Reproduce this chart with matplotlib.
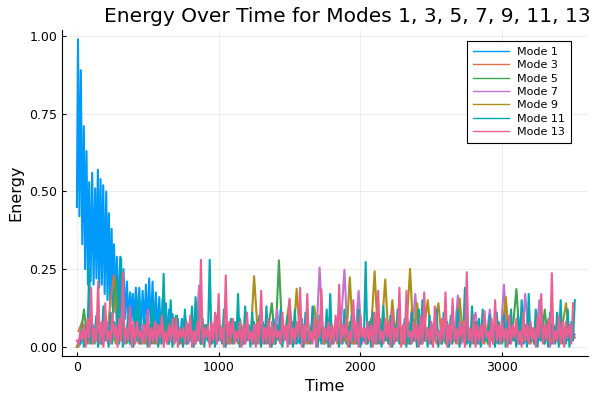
import numpy as np
import matplotlib.pyplot as plt

# mode 1: dense oscillation at the start, then small values
t1_early = [0, 8, 18, 28, 38, 49, 58, 68, 78, 87, 97, 108, 118, 129, 138, 148, 157, 167,
            176, 186, 196, 207, 216, 226, 235, 245, 254, 262, 272, 282, 294, 306, 317, 329,
            341, 353, 364, 376, 385, 395, 405, 416, 428, 440, 452, 464, 475, 487, 498, 510,
            522, 534, 545, 557, 569, 581, 593, 605, 616, 628, 640, 651, 663, 675, 690, 706,
            724, 741, 760]
e1_early = [0.45, 0.99, 0.42, 0.89, 0.33, 0.71, 0.25, 0.63, 0.20, 0.53, 0.21, 0.56, 0.20, 0.51,
            0.22, 0.57, 0.19, 0.54, 0.20, 0.52, 0.17, 0.50, 0.15, 0.43, 0.13, 0.38, 0.12, 0.33,
            0.11, 0.29, 0.10, 0.29, 0.10, 0.25, 0.09, 0.21, 0.08, 0.175, 0.08, 0.17, 0.07, 0.19,
            0.07, 0.19, 0.06, 0.18, 0.06, 0.20, 0.05, 0.22, 0.05, 0.21, 0.04, 0.175, 0.04, 0.16,
            0.03, 0.155, 0.03, 0.14, 0.02, 0.12, 0.02, 0.105, 0.02, 0.10, 0.01, 0.09, 0.02]
t1_late = list(range(800, 3501, 50))
e1_late = [0.08, 0.02, 0.05, 0.01, 0.04, 0.02, 0.05, 0.01, 0.03, 0.02, 0.04, 0.01, 0.05, 0.02,
           0.03, 0.01, 0.04, 0.02, 0.05, 0.01, 0.03, 0.02, 0.04, 0.01, 0.05, 0.02, 0.03, 0.01,
           0.04, 0.02, 0.05, 0.01, 0.03, 0.02, 0.04, 0.01, 0.05, 0.02, 0.03, 0.01, 0.04, 0.02,
           0.05, 0.01, 0.03, 0.02, 0.04, 0.01, 0.05, 0.02, 0.03, 0.01, 0.04, 0.02, 0.03]

# modes 3..9 sampled every 25 time units, on two interleaved grids
t_grid_a = list(range(0, 3501, 25))
t_grid_b = list(range(12, 3513, 25))

e3 = [0.05, 0.08, 0.03, 0.06, 0.02, 0.07, 0.03, 0.05, 0.02, 0.15, 0.23, 0.04, 0.06, 0.02, 0.08, 0.03, 0.05, 0.01, 0.06, 0.02,
      0.05, 0.01, 0.07, 0.02, 0.04, 0.01, 0.06, 0.02, 0.05, 0.01, 0.10, 0.02, 0.04, 0.01, 0.06, 0.02, 0.05, 0.01, 0.04, 0.02,
      0.06, 0.01, 0.04, 0.02, 0.07, 0.01, 0.05, 0.02, 0.04, 0.01, 0.06, 0.02, 0.05, 0.01, 0.04, 0.02, 0.06, 0.01, 0.05, 0.02,
      0.04, 0.01, 0.06, 0.02, 0.05, 0.01, 0.07, 0.02, 0.04, 0.01, 0.05, 0.02, 0.06, 0.01, 0.04, 0.02, 0.05, 0.01, 0.06, 0.02,
      0.05, 0.01, 0.04, 0.02, 0.06, 0.01, 0.05, 0.02, 0.04, 0.01, 0.07, 0.02, 0.05, 0.01, 0.12, 0.02, 0.04, 0.01, 0.06, 0.02,
      0.05, 0.01, 0.04, 0.02, 0.06, 0.01, 0.05, 0.02, 0.04, 0.01, 0.06, 0.02, 0.05, 0.01, 0.04, 0.02, 0.06, 0.01, 0.05, 0.02,
      0.04, 0.01, 0.06, 0.02, 0.05, 0.01, 0.04, 0.02, 0.06, 0.01, 0.05, 0.02, 0.04, 0.01, 0.06, 0.02, 0.05, 0.01, 0.04, 0.02, 0.03]

e5 = [0.00, 0.03, 0.12, 0.02, 0.08, 0.01, 0.10, 0.02, 0.07, 0.01, 0.09, 0.22, 0.02, 0.08, 0.01, 0.06, 0.02, 0.09, 0.01, 0.07,
      0.02, 0.08, 0.01, 0.06, 0.02, 0.09, 0.01, 0.07, 0.10, 0.02, 0.06, 0.01, 0.08, 0.02, 0.145, 0.01, 0.07, 0.02, 0.06, 0.01,
      0.08, 0.02, 0.06, 0.01, 0.07, 0.02, 0.09, 0.01, 0.06, 0.02, 0.08, 0.01, 0.07, 0.02, 0.06, 0.14, 0.01, 0.278, 0.02, 0.07,
      0.01, 0.08, 0.02, 0.06, 0.01, 0.09, 0.02, 0.07, 0.01, 0.06, 0.02, 0.08, 0.01, 0.07, 0.02, 0.06, 0.01, 0.08, 0.02, 0.07,
      0.01, 0.06, 0.02, 0.09, 0.01, 0.07, 0.02, 0.06, 0.01, 0.08, 0.02, 0.07, 0.01, 0.06, 0.02, 0.09, 0.01, 0.07, 0.02, 0.06,
      0.01, 0.08, 0.02, 0.07, 0.01, 0.06, 0.02, 0.09, 0.01, 0.07, 0.02, 0.06, 0.01, 0.08, 0.02, 0.07, 0.01, 0.06, 0.02, 0.08,
      0.01, 0.07, 0.02, 0.06, 0.186, 0.01, 0.08, 0.02, 0.07, 0.01, 0.06, 0.02, 0.12, 0.01, 0.07, 0.02, 0.06, 0.01, 0.08, 0.02, 0.05]

e7 = [0.00, 0.02, 0.05, 0.01, 0.07, 0.02, 0.06, 0.01, 0.08, 0.02, 0.05, 0.01, 0.07, 0.02, 0.06, 0.01, 0.05, 0.02, 0.07, 0.01,
      0.06, 0.02, 0.05, 0.01, 0.07, 0.02, 0.06, 0.01, 0.05, 0.02, 0.07, 0.01, 0.06, 0.02, 0.197, 0.01, 0.05, 0.02, 0.07, 0.01,
      0.06, 0.02, 0.05, 0.01, 0.08, 0.02, 0.06, 0.01, 0.05, 0.02, 0.07, 0.01, 0.06, 0.02, 0.05, 0.01, 0.12, 0.02, 0.06, 0.01,
      0.07, 0.02, 0.05, 0.01, 0.06, 0.02, 0.08, 0.01, 0.255, 0.02, 0.06, 0.01, 0.05, 0.02, 0.07, 0.248, 0.01, 0.06, 0.02, 0.18,
      0.01, 0.06, 0.02, 0.05, 0.01, 0.07, 0.02, 0.06, 0.01, 0.08, 0.02, 0.05, 0.01, 0.07, 0.02, 0.17, 0.01, 0.06, 0.02, 0.05,
      0.01, 0.07, 0.02, 0.06, 0.01, 0.05, 0.02, 0.165, 0.01, 0.06, 0.02, 0.07, 0.11, 0.01, 0.05, 0.02, 0.12, 0.01, 0.06, 0.02,
      0.20, 0.01, 0.07, 0.02, 0.06, 0.01, 0.17, 0.02, 0.05, 0.01, 0.15, 0.02, 0.06, 0.01, 0.07, 0.02, 0.05, 0.01, 0.06, 0.02, 0.04]

e9 = [0.00, 0.02, 0.04, 0.01, 0.06, 0.02, 0.05, 0.01, 0.07, 0.02, 0.05, 0.01, 0.06, 0.02, 0.04, 0.01, 0.07, 0.02, 0.05, 0.01,
      0.06, 0.02, 0.05, 0.01, 0.07, 0.02, 0.04, 0.01, 0.06, 0.02, 0.05, 0.01, 0.07, 0.02, 0.06, 0.01, 0.05, 0.02, 0.04, 0.01,
      0.06, 0.02, 0.07, 0.01, 0.05, 0.02, 0.06, 0.01, 0.04, 0.02, 0.227, 0.05, 0.01, 0.07, 0.02, 0.06, 0.01, 0.05, 0.02, 0.07,
      0.15, 0.01, 0.187, 0.02, 0.06, 0.01, 0.05, 0.13, 0.02, 0.06, 0.01, 0.07, 0.02, 0.05, 0.01, 0.06, 0.02, 0.224, 0.01, 0.07,
      0.02, 0.06, 0.01, 0.05, 0.243, 0.02, 0.06, 0.217, 0.01, 0.15, 0.02, 0.07, 0.01, 0.06, 0.251, 0.02, 0.14, 0.01, 0.06, 0.15,
      0.02, 0.07, 0.14, 0.01, 0.06, 0.02, 0.05, 0.01, 0.155, 0.02, 0.07, 0.01, 0.06, 0.02, 0.05, 0.01, 0.07, 0.02, 0.06, 0.01,
      0.05, 0.16, 0.02, 0.06, 0.01, 0.07, 0.02, 0.05, 0.01, 0.06, 0.02, 0.07, 0.01, 0.05, 0.02, 0.06, 0.01, 0.07, 0.14, 0.02, 0.05]

# modes 11 and 13 oscillate faster: peaks every 25, troughs in between
t11_peaks = list(range(12, 3513, 25))
t11_lows = list(range(24, 3500, 25))
e11_peaks = [0.02, 0.05, 0.06, 0.25, 0.07, 0.10, 0.05, 0.13, 0.06, 0.11, 0.08, 0.12, 0.285, 0.06, 0.10, 0.07, 0.12, 0.17, 0.05, 0.09,
             0.07, 0.15, 0.06, 0.11, 0.235, 0.05, 0.15, 0.08, 0.09, 0.06, 0.12, 0.07, 0.13, 0.16, 0.05, 0.09, 0.07, 0.28, 0.06, 0.10,
             0.07, 0.12, 0.05, 0.09, 0.08, 0.17, 0.06, 0.13, 0.07, 0.11, 0.05, 0.10, 0.08, 0.13, 0.06, 0.09, 0.07, 0.12, 0.05, 0.10,
             0.08, 0.12, 0.06, 0.09, 0.11, 0.05, 0.13, 0.07, 0.10, 0.06, 0.12, 0.17, 0.05, 0.09, 0.08, 0.12, 0.06, 0.10, 0.07, 0.12,
             0.05, 0.273, 0.08, 0.11, 0.06, 0.09, 0.13, 0.05, 0.10, 0.07, 0.12, 0.06, 0.09, 0.08, 0.11, 0.05, 0.12, 0.15, 0.06, 0.10,
             0.07, 0.12, 0.05, 0.11, 0.08, 0.10, 0.06, 0.12, 0.07, 0.19, 0.05, 0.13, 0.08, 0.09, 0.12, 0.06, 0.10, 0.07, 0.11, 0.05,
             0.10, 0.08, 0.12, 0.06, 0.10, 0.15, 0.07, 0.17, 0.05, 0.12, 0.08, 0.10, 0.06, 0.11, 0.07, 0.11, 0.15, 0.05, 0.12, 0.08, 0.15]
e11_lows = [0.01, 0.00, 0.02, 0.01, 0.03, 0.00, 0.01, 0.02, 0.00, 0.01, 0.03, 0.01, 0.00, 0.02, 0.01, 0.00, 0.02, 0.01, 0.03, 0.00,
            0.01, 0.02, 0.00, 0.01, 0.03, 0.01, 0.00, 0.02, 0.01, 0.00, 0.01, 0.02, 0.00, 0.03, 0.01, 0.00, 0.02, 0.01, 0.00, 0.02,
            0.01, 0.00, 0.03, 0.01, 0.02, 0.00, 0.01, 0.02, 0.00, 0.01, 0.03, 0.00, 0.01, 0.02, 0.00, 0.01, 0.02, 0.00, 0.03, 0.01,
            0.00, 0.02, 0.01, 0.00, 0.02, 0.01, 0.03, 0.00, 0.01, 0.02, 0.00, 0.01, 0.02, 0.00, 0.01, 0.03, 0.00, 0.02, 0.01, 0.00,
            0.02, 0.01, 0.00, 0.03, 0.01, 0.00, 0.02, 0.01, 0.00, 0.02, 0.01, 0.03, 0.00, 0.01, 0.02, 0.00, 0.01, 0.02, 0.00, 0.01,
            0.03, 0.00, 0.01, 0.02, 0.00, 0.01, 0.02, 0.00, 0.03, 0.01, 0.00, 0.02, 0.01, 0.00, 0.02, 0.01, 0.03, 0.00, 0.01, 0.02,
            0.00, 0.01, 0.02, 0.00, 0.01, 0.03, 0.00, 0.02, 0.01, 0.00, 0.02, 0.01, 0.00, 0.03, 0.01, 0.00, 0.02, 0.01, 0.00, 0.02]

t13_peaks = list(range(0, 3501, 25))
t13_lows = list(range(12, 3500, 25))
e13_peaks = [0.02, 0.05, 0.07, 0.09, 0.19, 0.06, 0.21, 0.08, 0.14, 0.05, 0.11, 0.07, 0.09, 0.24, 0.06, 0.13, 0.08, 0.08, 0.05, 0.07,
             0.12, 0.06, 0.08, 0.07, 0.10, 0.05, 0.07, 0.09, 0.09, 0.06, 0.06, 0.08, 0.10, 0.05, 0.08, 0.28, 0.06, 0.07, 0.08, 0.11,
             0.17, 0.06, 0.23, 0.08, 0.09, 0.05, 0.08, 0.07, 0.11, 0.05, 0.07, 0.08, 0.18, 0.06, 0.09, 0.08, 0.07, 0.05, 0.11, 0.07,
             0.155, 0.06, 0.08, 0.19, 0.07, 0.17, 0.05, 0.09, 0.08, 0.185, 0.06, 0.08, 0.07, 0.10, 0.20, 0.07, 0.09, 0.05, 0.15, 0.08,
             0.10, 0.06, 0.08, 0.07, 0.11, 0.18, 0.05, 0.09, 0.08, 0.12, 0.06, 0.19, 0.07, 0.18, 0.05, 0.08, 0.07, 0.10, 0.175, 0.06,
             0.08, 0.13, 0.05, 0.09, 0.175, 0.07, 0.155, 0.06, 0.08, 0.08, 0.24, 0.06, 0.10, 0.07, 0.07, 0.115, 0.05, 0.09, 0.15, 0.07,
             0.08, 0.06, 0.10, 0.07, 0.09, 0.05, 0.11, 0.07, 0.08, 0.06, 0.10, 0.17, 0.07, 0.09, 0.237, 0.05, 0.10, 0.08, 0.08, 0.07, 0.14]
e13_lows = [0.01, 0.02, 0.00, 0.03, 0.01, 0.02, 0.01, 0.00, 0.02, 0.01, 0.03, 0.00, 0.02, 0.01, 0.02, 0.00, 0.01, 0.03, 0.01, 0.02,
            0.00, 0.02, 0.01, 0.03, 0.00, 0.01, 0.02, 0.01, 0.00, 0.03, 0.01, 0.02, 0.00, 0.01, 0.02, 0.01, 0.03, 0.00, 0.02, 0.01,
            0.02, 0.00, 0.01, 0.03, 0.01, 0.02, 0.00, 0.01, 0.02, 0.01, 0.00, 0.03, 0.01, 0.02, 0.00, 0.01, 0.03, 0.01, 0.02, 0.00,
            0.01, 0.02, 0.03, 0.00, 0.01, 0.02, 0.01, 0.00, 0.03, 0.01, 0.02, 0.00, 0.01, 0.02, 0.01, 0.03, 0.00, 0.02, 0.01, 0.00,
            0.03, 0.01, 0.02, 0.00, 0.01, 0.02, 0.01, 0.03, 0.00, 0.01, 0.02, 0.00, 0.01, 0.03, 0.01, 0.02, 0.00, 0.01, 0.02, 0.01,
            0.00, 0.03, 0.01, 0.02, 0.00, 0.01, 0.02, 0.01, 0.03, 0.00, 0.02, 0.01, 0.00, 0.02, 0.01, 0.03, 0.00, 0.01, 0.02, 0.01,
            0.02, 0.00, 0.01, 0.03, 0.01, 0.00, 0.02, 0.01, 0.02, 0.00, 0.03, 0.01, 0.02, 0.00, 0.01, 0.02, 0.01, 0.00, 0.03, 0.01]

labels = ["Mode 1", "Mode 3", "Mode 5", "Mode 7", "Mode 9", "Mode 11", "Mode 13"]
colors = ["#009AFA", "#E36F47", "#3EA44E", "#C371D2", "#AC8E18", "#00A9AD", "#ED5E93"]


def merge(t_a, v_a, t_b, v_b):
    t = np.array(t_a + t_b)
    v = np.array(v_a + v_b)
    order = np.argsort(t)
    return t[order], v[order]


t11, e11 = merge(t11_peaks, e11_peaks, t11_lows, e11_lows)
t13, e13 = merge(t13_peaks, e13_peaks, t13_lows, e13_lows)

series = [
    (t1_early + t1_late, e1_early + e1_late),
    (t_grid_b, e3),
    (t_grid_a, e5),
    (t_grid_b, e7),
    (t_grid_a, e9),
    (t11, e11),
    (t13, e13),
]

fig = plt.figure(figsize=(6, 4), dpi=100)
ax = fig.add_axes([0.1033, 0.11, 0.8767, 0.815])

for (tt, vals), lab, c in zip(series, labels, colors):
    ax.plot(tt, vals, color=c, lw=1.5, label=lab)

ax.set_xlim(-105, 3605)
ax.set_ylim(-0.0297, 1.0197)
ax.set_xticks([0, 1000, 2000, 3000])
ax.set_yticks([0, 0.25, 0.5, 0.75, 1.0])
ax.set_yticklabels(["0.00", "0.25", "0.50", "0.75", "1.00"])
ax.tick_params(direction="in", labelsize=9, length=3, width=0.8)
ax.grid(True, color="#000000", alpha=0.08, lw=0.6)
for s in ["top", "right"]:
    ax.spines[s].set_visible(False)

ax.set_xlabel("Time", fontsize=11.5)
ax.set_ylabel("Energy", fontsize=11.5)
ax.set_title("Energy Over Time for Modes 1, 3, 5, 7, 9, 11, 13", fontsize=14.5, x=0.542)

leg = ax.legend(loc="upper right", fontsize=8, fancybox=False, framealpha=1,
                edgecolor="black", handlelength=3.2, labelspacing=0.3,
                borderpad=0.5, bbox_to_anchor=(0.978, 0.982))
leg.get_frame().set_linewidth(0.8)
for h in leg.get_lines():
    h.set_linewidth(1)

fig.savefig("out.png", dpi=100)
